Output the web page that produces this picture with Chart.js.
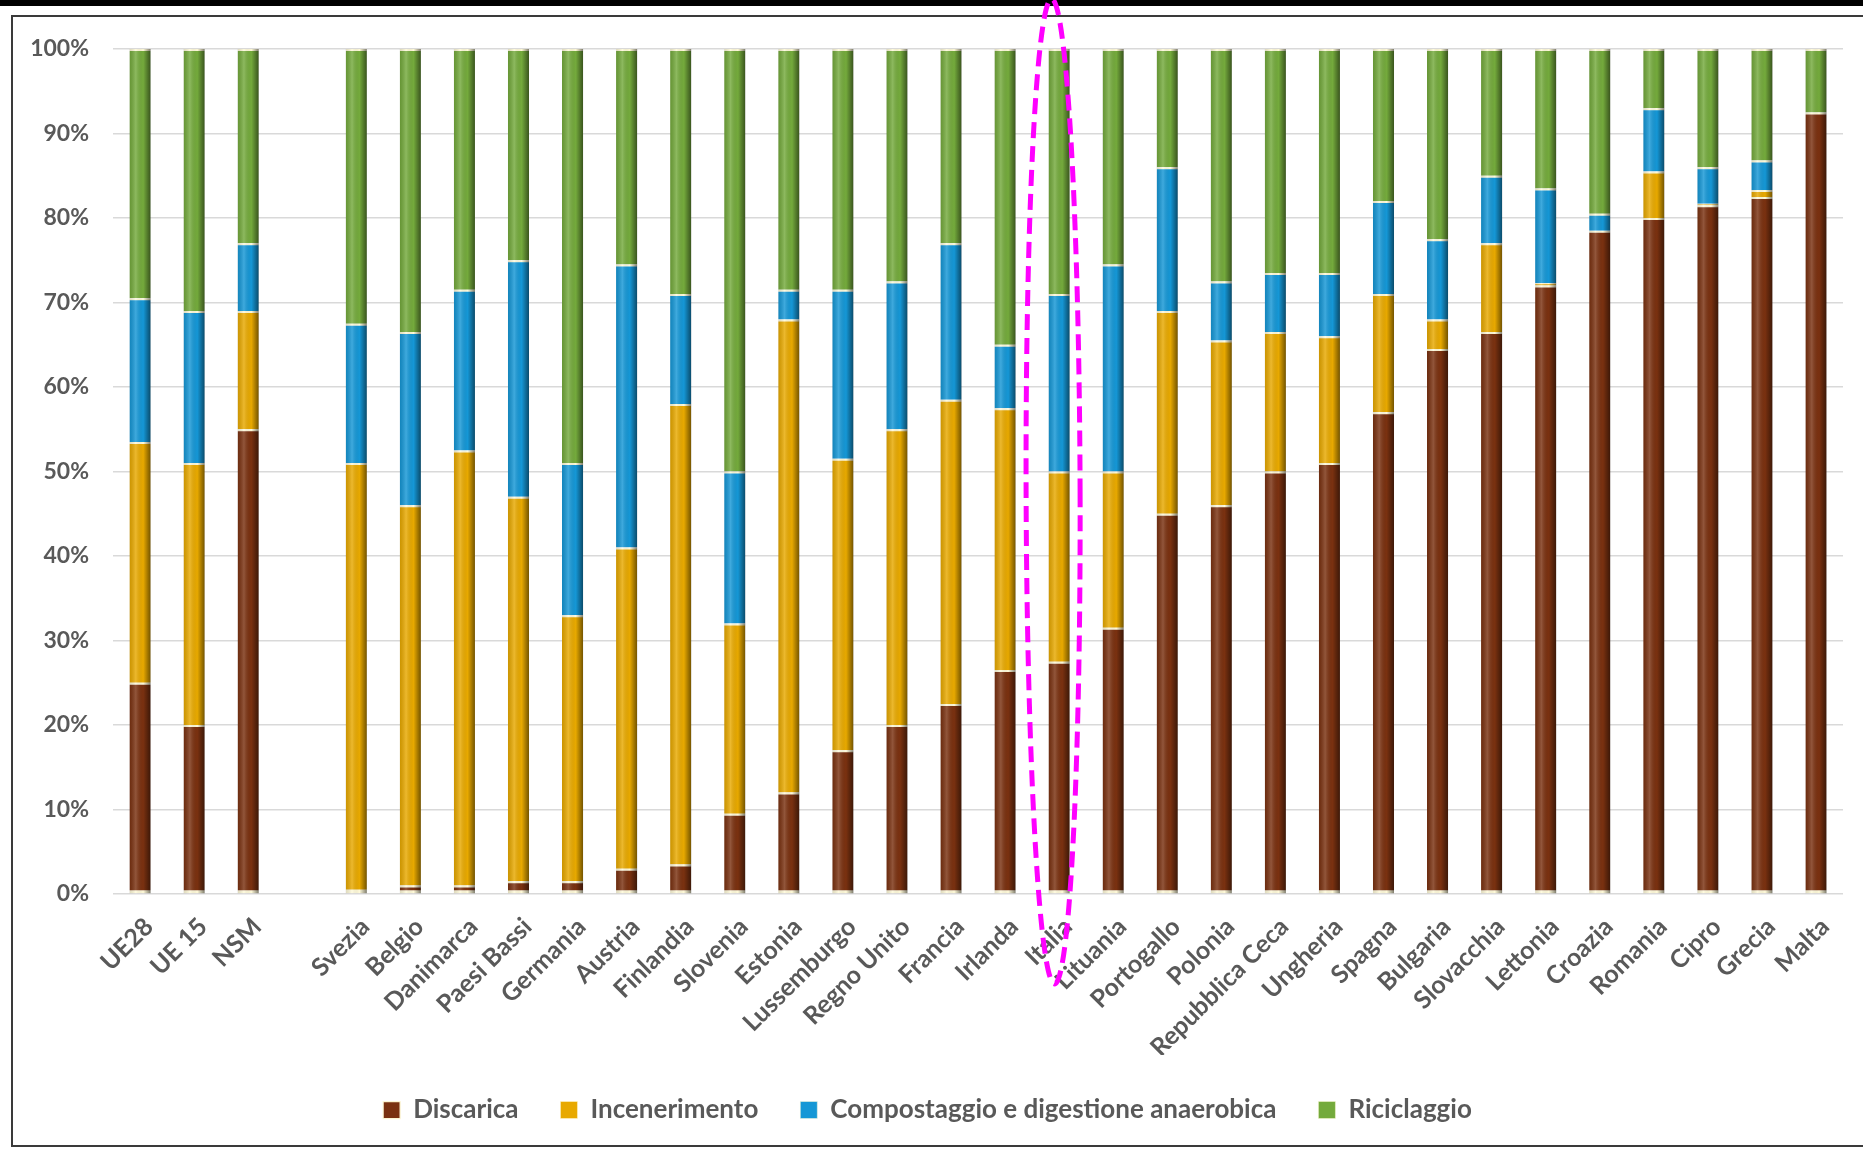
<!DOCTYPE html>
<html>
<head>
<meta charset="utf-8">
<script src="https://cdn.jsdelivr.net/npm/chart.js@4.4.1/dist/chart.umd.min.js"></script>
<style>
  html, body { margin: 0; padding: 0; background: #fff; }
  #wrap { position: relative; width: 1863px; height: 1153px; overflow: hidden; }
  #band { position: absolute; left: 0; top: 0; width: 1863px; height: 6px; background: #000; }
  #frame { position: absolute; left: 11px; top: 15px; width: 1870px; height: 1132px;
           border: 2px solid #3a3a3a; box-sizing: border-box; }
  #box { position: absolute; left: 0; top: 0; width: 1863px; height: 1153px; }
</style>
</head>
<body>
<div id="wrap">
  <div id="band"></div>
  <div id="frame"></div>
  <div id="box"><canvas id="grafico"></canvas></div>
</div>
<script>
// ── DATI (quota % per destinazione dei rifiuti urbani)
const PAESI = ['UE28', 'UE 15', 'NSM', '', 'Svezia', 'Belgio', 'Danimarca', 'Paesi Bassi', 'Germania',
  'Austria', 'Finlandia', 'Slovenia', 'Estonia', 'Lussemburgo', 'Regno Unito', 'Francia', 'Irlanda',
  'Italia', 'Lituania', 'Portogallo', 'Polonia', 'Repubblica Ceca', 'Ungheria', 'Spagna', 'Bulgaria',
  'Slovacchia', 'Lettonia', 'Croazia', 'Romania', 'Cipro', 'Grecia', 'Malta'];

const DISCARICA = [25, 20, 55, null, 0.5, 1, 1, 1.5, 1.5, 3, 3.5, 9.5, 12, 17, 20, 22.5, 26.5,
  27.5, 31.5, 45, 46, 50, 51, 57, 64.5, 66.5, 72, 78.5, 80, 81.5, 82.5, 92.5];
const INCENERIMENTO = [28.5, 31, 14, null, 50.5, 45, 51.5, 45.5, 31.5, 38, 54.5, 22.5, 56, 34.5, 35, 36, 31,
  22.5, 18.5, 24, 19.5, 16.5, 15, 14, 3.5, 10.5, 0.3, 0, 5.5, 0.2, 0.8, 0];
const COMPOSTAGGIO = [17, 18, 8, null, 16.5, 20.5, 19, 28, 18, 33.5, 13, 18, 3.5, 20, 17.5, 18.5, 7.5,
  21, 24.5, 17, 7, 7, 7.5, 11, 9.5, 8, 11.2, 2, 7.5, 4.3, 3.5, 0];
const RICICLAGGIO = [29.5, 31, 23, null, 32.5, 33.5, 28.5, 25, 49, 25.5, 29, 50, 28.5, 28.5, 27.5, 23, 35,
  29, 25.5, 14, 27.5, 26.5, 26.5, 18, 22.5, 15, 16.5, 19.5, 7, 14, 13.2, 7.5];

const ETICHETTE_Y = ['0%', '10%', '20%', '30%', '40%', '50%', '60%', '70%', '80%', '90%', '100%'];

const COLORI = {
  discarica: '#7a3110',
  incenerimento: '#e8a900',
  compostaggio: '#1597d6',
  riciclaggio: '#74aa3c'
};

const FONT = 'Lato, "Open Sans", sans-serif';
const GRIGIO = '#595959';

function serie(label, dati, col, base) {
  return {
    label: label,
    data: dati,
    backgroundColor: col,
    borderColor: 'rgba(255,250,215,0.95)',
    borderWidth: { top: 2, bottom: base ? 3 : 0, left: 0, right: 0 },
    borderSkipped: false,
    barPercentage: 0.78,
    categoryPercentage: 0.5
  };
}

// ── effetto cilindro: velatura orizzontale sopra ogni barra
const pluginCilindro = {
  id: 'cilindro',
  afterDatasetsDraw(chart) {
    const ctx = chart.ctx;
    ctx.save();
    chart.data.datasets.forEach((ds, i) => {
      chart.getDatasetMeta(i).data.forEach(el => {
        if (!el || !el.width || el.y == null) return;
        const x0 = el.x - el.width / 2;
        const top = Math.min(el.y, el.base), h = Math.abs(el.base - el.y);
        if (h < 0.5) return;
        const g = ctx.createLinearGradient(x0, 0, x0 + el.width, 0);
        g.addColorStop(0, 'rgba(0,0,0,0.12)');
        g.addColorStop(0.3, 'rgba(255,255,255,0.18)');
        g.addColorStop(0.65, 'rgba(0,0,0,0)');
        g.addColorStop(1, 'rgba(0,0,0,0.5)');
        ctx.fillStyle = g;
        ctx.fillRect(x0, top, el.width, h);
      });
    });
    ctx.restore();
  }
};

// ── ellisse tratteggiata attorno all'Italia
const pluginEvidenzia = {
  id: 'evidenzia',
  afterDraw(chart) {
    const xs = chart.scales.x, ys = chart.scales.y;
    const idx = PAESI.indexOf('Italia');
    const cx = xs.getPixelForValue(idx) - 6;
    const top = ys.getPixelForValue(100) - 50;
    const bottom = ys.getPixelForValue(0) + 90;
    const ctx = chart.ctx;
    ctx.save();
    ctx.strokeStyle = '#ff00ff';
    ctx.lineWidth = 5;
    ctx.setLineDash([16, 8]);
    ctx.beginPath();
    ctx.ellipse(cx, (top + bottom) / 2, 27, (bottom - top) / 2, -0.003, 0, Math.PI * 2);
    ctx.stroke();
    ctx.restore();
  }
};

const cfg = {
  type: 'bar',
  data: {
    labels: PAESI,
    datasets: [
      serie('Discarica', DISCARICA, COLORI.discarica, true),
      serie('Incenerimento', INCENERIMENTO, COLORI.incenerimento),
      serie('Compostaggio e digestione anaerobica', COMPOSTAGGIO, COLORI.compostaggio),
      serie('Riciclaggio', RICICLAGGIO, COLORI.riciclaggio)
    ]
  },
  options: {
    responsive: true,
    maintainAspectRatio: false,
    animation: false,
    layout: { padding: { top: 49, left: 12, right: 20, bottom: 20 } },
    plugins: {
      legend: {
        position: 'bottom',
        labels: {
          boxWidth: 17,
          boxHeight: 17,
          padding: 42,
          color: GRIGIO,
          font: { family: FONT, size: 26, weight: 'bold' }
        }
      },
      tooltip: { enabled: false }
    },
    scales: {
      x: {
        stacked: true,
        grid: { display: false },
        border: { display: false },
        ticks: {
          autoSkip: false,
          maxRotation: 45,
          minRotation: 45,
          padding: 10,
          labelOffset: 9,
          color: GRIGIO,
          font: { family: FONT, size: 25, weight: 'bold' }
        },
        afterFit(scale) { scale.height = 161; }
      },
      y: {
        stacked: true,
        min: 0,
        max: 100,
        grid: { color: '#d9d9d9', lineWidth: 1.5, drawTicks: false },
        border: { display: false },
        ticks: {
          stepSize: 10,
          padding: 24,
          color: GRIGIO,
          font: { family: FONT, size: 23, weight: 'bold' },
          callback: v => ETICHETTE_Y[Math.round(v / 10)]
        },
        afterFit(scale) { scale.width = 101; }
      }
    }
  },
  plugins: [pluginCilindro, pluginEvidenzia]
};

new Chart(document.getElementById('grafico'), cfg);
</script>
</body>
</html>
